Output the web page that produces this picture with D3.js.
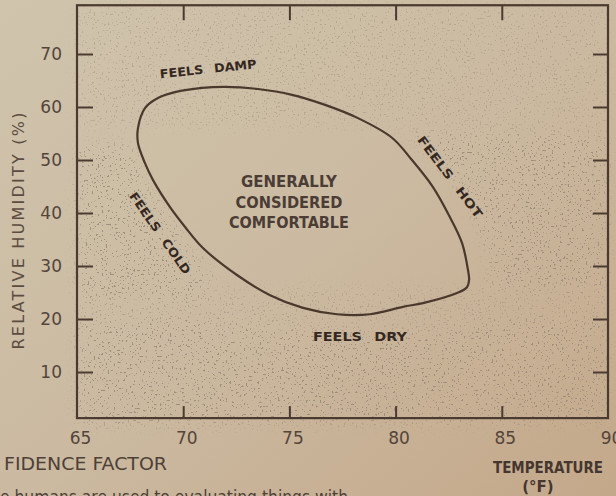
<!DOCTYPE html>
<html>
<head>
<meta charset="utf-8">
<script src="https://cdn.jsdelivr.net/npm/d3@7"></script>
<style>
  html, body { margin: 0; padding: 0; background: #c8b69d; }
  svg { display: block; }
</style>
</head>
<body>
<svg id="chart" width="616" height="496"></svg>
<script>
// ---------- data ----------
const tempTicks = [65, 70, 75, 80, 85, 90];
const innerTempTicks = [70, 75, 80, 85];
const humidityTicks = [10, 20, 30, 40, 50, 60, 70];

// comfort zone outline (temperature °F, relative humidity %), clockwise
const comfortTemp = [67.87, 68.20, 68.81, 69.61, 70.89, 71.97, 73.52, 75.12, 76.68, 78.23,
  79.83, 80.73, 81.76, 82.56, 83.13, 83.41, 83.46, 83.36, 82.89, 81.29, 80.35, 78.79,
  77.24, 75.64, 74.09, 72.53, 70.93, 70.08, 69.38, 68.58, 68.20, 67.87];
const comfortHumidity = [56.0, 59.8, 61.7, 62.8, 63.6, 63.8, 63.4, 62.3, 60.4, 57.9,
  54.2, 50.2, 44.9, 39.2, 34.3, 29.2, 27.4, 26.0, 24.9, 23.0, 22.3, 20.9,
  20.9, 22.1, 24.5, 28.3, 33.4, 37.4, 41.1, 46.2, 49.4, 53.2];

const zoneLabels = ["FEELS DAMP", "FEELS HOT", "FEELS COLD", "FEELS DRY"];
const zoneTemp = [71.17, 82.56, 68.91, 78.32];
const zoneHumidity = [67.2, 46.8, 36.2, 16.6];
const comfortText = ["GENERALLY", "CONSIDERED", "COMFORTABLE"];
const comfortTextTemp = 74.98;
const comfortTextHumidity = 41.9;

// ---------- drawing ----------
const svg = d3.select("#chart");
const W = 616, H = 496;
const ink = "#4a3a30";
const textInk = "#54453b";

const x = d3.scaleLinear().domain([65, 90]).range([77, 608]);
const y = d3.scaleLinear().domain([0, 80]).range([425, 1]);
const yTop = 79.2, yBottom = 1.3;

const defs = svg.append("defs");
const bg = defs.append("linearGradient").attr("id", "bg")
  .attr("x1", 0).attr("y1", 0).attr("x2", 1).attr("y2", 1);
bg.append("stop").attr("offset", "0%").attr("stop-color", "#d0c4ad");
bg.append("stop").attr("offset", "50%").attr("stop-color", "#cbbaa1");
bg.append("stop").attr("offset", "100%").attr("stop-color", "#c4a88a");

// stipple texture
const grain = defs.append("filter").attr("id", "grain")
  .attr("filterUnits", "userSpaceOnUse")
  .attr("x", 0).attr("y", 0).attr("width", W).attr("height", H);
grain.append("feTurbulence").attr("type", "fractalNoise")
  .attr("baseFrequency", 0.5).attr("numOctaves", 1).attr("seed", 7);
grain.append("feColorMatrix").attr("type", "matrix")
  .attr("values", "0 0 0 0 0.34  0 0 0 0 0.27  0 0 0 0 0.21  25 0 0 0 -16.4");

const blur = defs.append("filter").attr("id", "soft")
  .attr("x", "-20%").attr("y", "-20%").attr("width", "140%").attr("height", "140%");
blur.append("feGaussianBlur").attr("stdDeviation", 7);

const mask = defs.append("mask").attr("id", "stippleMask")
  .attr("maskUnits", "userSpaceOnUse")
  .attr("x", 0).attr("y", 0).attr("width", W).attr("height", H);
const mg = mask.append("g").attr("filter", "url(#soft)");
const poly = pts => pts.map(p => [x(p[0]), y(p[1])].join(",")).join(" ");
// sparse top
mg.append("polygon").attr("fill", "#fff").attr("opacity", 0.45)
  .attr("points", poly([[65, 79], [90, 79], [90, 56], [65, 56]]));
// left band
mg.append("polygon").attr("fill", "#fff").attr("opacity", 1)
  .attr("points", poly([[65, 53], [67.6, 53], [68.2, 46], [69.2, 40], [70.2, 34], [71.5, 28], [70.5, 24], [65, 24]]));
// right band
mg.append("polygon").attr("fill", "#fff").attr("opacity", 1)
  .attr("points", poly([[80.3, 55], [90, 55], [90, 26], [84.5, 26], [84.2, 34], [83.4, 42], [82, 50]]));
// bottom band
mg.append("polygon").attr("fill", "#fff").attr("opacity", 1)
  .attr("points", poly([[65, 19], [70, 20], [75, 18.5], [80, 17.5], [85, 19.5], [90, 20], [90, 0], [65, 0]]));
// light middle
mg.append("polygon").attr("fill", "#fff").attr("opacity", 0.5)
  .attr("points", poly([[65, 26], [90, 26], [90, 19], [65, 19]]));

svg.append("rect").attr("width", W).attr("height", H).attr("fill", "url(#bg)");
svg.append("rect").attr("width", W).attr("height", H)
  .attr("filter", "url(#grain)").attr("mask", "url(#stippleMask)");

// frame
svg.append("rect")
  .attr("x", x(65)).attr("y", y(yTop))
  .attr("width", x(90) - x(65)).attr("height", y(yBottom) - y(yTop))
  .attr("fill", "none").attr("stroke", ink).attr("stroke-width", 2.2);

function styleAxis(g) {
  g.select(".domain").remove();
  g.selectAll(".tick line").attr("stroke", ink).attr("stroke-width", 2);
  g.selectAll("text").attr("fill", textInk)
    .style("font-family", "'DejaVu Sans', sans-serif").style("font-size", "17px");
}

// left axis
svg.append("g").attr("transform", `translate(${x(65)},0)`)
  .call(d3.axisLeft(y).tickValues(humidityTicks).tickSizeInner(-16).tickSizeOuter(0).tickPadding(15))
  .call(styleAxis);
// right ticks
svg.append("g").attr("transform", `translate(${x(90)},0)`)
  .call(d3.axisRight(y).tickValues(humidityTicks).tickSizeInner(-15).tickSizeOuter(0).tickFormat(""))
  .call(styleAxis);
// top ticks
svg.append("g").attr("transform", `translate(0,${y(yTop)})`)
  .call(d3.axisTop(x).tickValues(innerTempTicks).tickSizeInner(-15).tickSizeOuter(0).tickFormat(""))
  .call(styleAxis);
// bottom ticks
svg.append("g").attr("transform", `translate(0,${y(yBottom)})`)
  .call(d3.axisBottom(x).tickValues(innerTempTicks).tickSizeInner(-12).tickSizeOuter(0).tickFormat(""))
  .call(styleAxis);
// bottom labels
const bl = svg.append("g").attr("transform", `translate(3,${y(yBottom)})`)
  .call(d3.axisBottom(x).tickValues(tempTicks).tickSize(0).tickPadding(14))
  .call(styleAxis);
bl.selectAll(".tick line").remove();

// axis titles
svg.append("text")
  .attr("transform", `translate(24,${231}) rotate(-90)`)
  .attr("text-anchor", "middle")
  .attr("textLength", 237).attr("lengthAdjust", "spacing")
  .attr("fill", "#5c4c41")
  .style("font-family", "'DejaVu Sans', sans-serif").style("font-size", "16px")
  .text("RELATIVE HUMIDITY (%)");

svg.append("text").attr("x", 548).attr("y", 473).attr("text-anchor", "middle")
  .attr("textLength", 110).attr("lengthAdjust", "spacingAndGlyphs")
  .attr("fill", "#45372f")
  .style("font-family", "'DejaVu Sans', sans-serif").style("font-size", "15px").style("font-weight", "bold")
  .text("TEMPERATURE");
svg.append("text").attr("x", 538).attr("y", 492).attr("text-anchor", "middle")
  .attr("fill", "#45372f")
  .style("font-family", "'DejaVu Sans', sans-serif").style("font-size", "15px").style("font-weight", "bold")
  .text("(°F)");

svg.append("text").attr("x", 4).attr("y", 470)
  .attr("textLength", 163).attr("lengthAdjust", "spacingAndGlyphs")
  .attr("fill", "#4d4037")
  .style("font-family", "'DejaVu Sans', sans-serif").style("font-size", "17px")
  .text("FIDENCE FACTOR");
svg.append("text").attr("x", 0).attr("y", 503)
  .attr("textLength", 348).attr("lengthAdjust", "spacingAndGlyphs")
  .attr("fill", "#4d4037")
  .style("font-family", "'DejaVu Sans', sans-serif").style("font-size", "17px")
  .text("e humans are used to evaluating things with");

// comfort outline
const pts = comfortTemp.map((t, i) => [x(t), y(comfortHumidity[i])]);
svg.append("path")
  .attr("d", d3.line().curve(d3.curveCatmullRomClosed.alpha(0.5))(pts))
  .attr("fill", "none").attr("stroke", "#4a382d").attr("stroke-width", 2.2);

// comfort text
const ctLens = [96, 107, 120];
comfortText.forEach((s, i) => {
  svg.append("text")
    .attr("x", x(comfortTextTemp)).attr("y", y(comfortTextHumidity) + (i - 1) * 20.5 + 5)
    .attr("text-anchor", "middle").attr("fill", "#4b3d35")
    .attr("textLength", ctLens[i]).attr("lengthAdjust", "spacingAndGlyphs")
    .style("font-family", "'DejaVu Sans', sans-serif").style("font-size", "15px").style("font-weight", "bold")
    .text(s);
});

// zone labels
const zoneRot = [-6, 53, 55, 0];
const zoneLen = [97, 99, 97, 94];
zoneLabels.forEach((s, i) => {
  svg.append("text")
    .attr("transform", `translate(${x(zoneTemp[i])},${y(zoneHumidity[i])}) rotate(${zoneRot[i]})`)
    .attr("text-anchor", "middle").attr("dy", "0.36em")
    .attr("textLength", zoneLen[i]).attr("lengthAdjust", "spacingAndGlyphs")
    .attr("fill", "#35281f")
    .style("font-family", "'DejaVu Sans', sans-serif").style("font-size", "12px").style("font-weight", "bold")
    .style("word-spacing", "6px")
    .text(s);
});
</script>
</body>
</html>
